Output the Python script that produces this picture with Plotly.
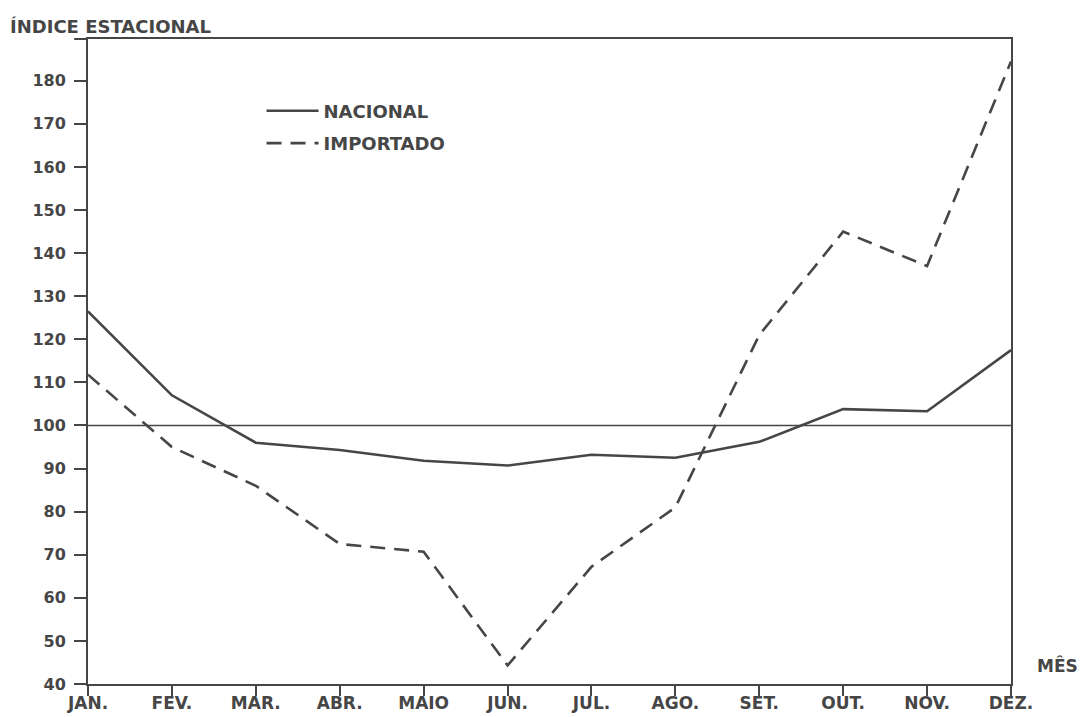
import plotly.graph_objects as go

months = ["JAN.", "FEV.", "MAR.", "ABR.", "MAIO", "JUN.",
          "JUL.", "AGO.", "SET.", "OUT.", "NOV.", "DEZ."]
nacional = [126.5, 107, 96, 94.3, 91.8, 90.7, 93.2, 92.5, 96.2, 103.8, 103.3, 117.5]
importado = [111.8, 95, 86, 72.5, 70.7, 44.3, 67.2, 81, 121, 145, 137, 184.5]
yticks = list(range(40, 190, 10))

ink = "#464646"
font = dict(family="DejaVu Sans, sans-serif", size=18, color=ink, weight="bold")

fig = go.Figure()
fig.add_trace(go.Scatter(
    x=months, y=nacional, mode="lines", name="NACIONAL", legendgroup="a",
    line=dict(color=ink, width=2.6)
))
fig.add_trace(go.Scatter(
    x=months, y=importado, mode="lines", name="IMPORTADO", legendgroup="b",
    line=dict(color=ink, width=2.6, dash="15px,9px")
))

# reference line at index 100
fig.add_shape(type="line", xref="paper", yref="y", x0=0, x1=1, y0=100, y1=100,
              line=dict(color=ink, width=1.6))
# top frame runs a little past the y axis
fig.add_shape(type="line", xref="paper", yref="paper", x0=-0.015, x1=0, y0=1, y1=1,
              line=dict(color=ink, width=2))

fig.add_annotation(text="ÍNDICE ESTACIONAL", xref="paper", yref="paper",
                   x=-0.0865, y=1.02, xanchor="left", yanchor="middle",
                   showarrow=False, font=font)
fig.add_annotation(text="MÊS", xref="paper", yref="paper",
                   x=1.026, y=0.029, xanchor="left", yanchor="middle",
                   showarrow=False, font=dict(font, size=17))

fig.update_layout(
    width=1086, height=717,
    margin=dict(l=80, r=83, t=31, b=41),
    paper_bgcolor="white", plot_bgcolor="white",
    showlegend=True,
    legend=dict(x=0.188, y=0.917, xanchor="left", yanchor="top",
                bgcolor="rgba(0,0,0,0)", font=font, itemwidth=52,
                traceorder="grouped", tracegroupgap=6),
)
fig.update_xaxes(
    range=[0, 11], showgrid=False, zeroline=False, automargin=False,
    showline=True, linecolor=ink, linewidth=2, mirror=True,
    ticks="outside", ticklen=10, tickwidth=2, tickcolor=ink,
    tickfont=dict(font, size=17), ticklabelstandoff=-7,
)
fig.update_yaxes(
    range=[40, 189.7], showgrid=False, zeroline=False, automargin=False,
    tickvals=yticks,
    showline=True, linecolor=ink, linewidth=2, mirror=True,
    ticks="outside", ticklen=12, tickwidth=2, tickcolor=ink,
    tickfont=dict(font, size=16), ticklabelstandoff=5,
)

fig.write_html("out.html")
